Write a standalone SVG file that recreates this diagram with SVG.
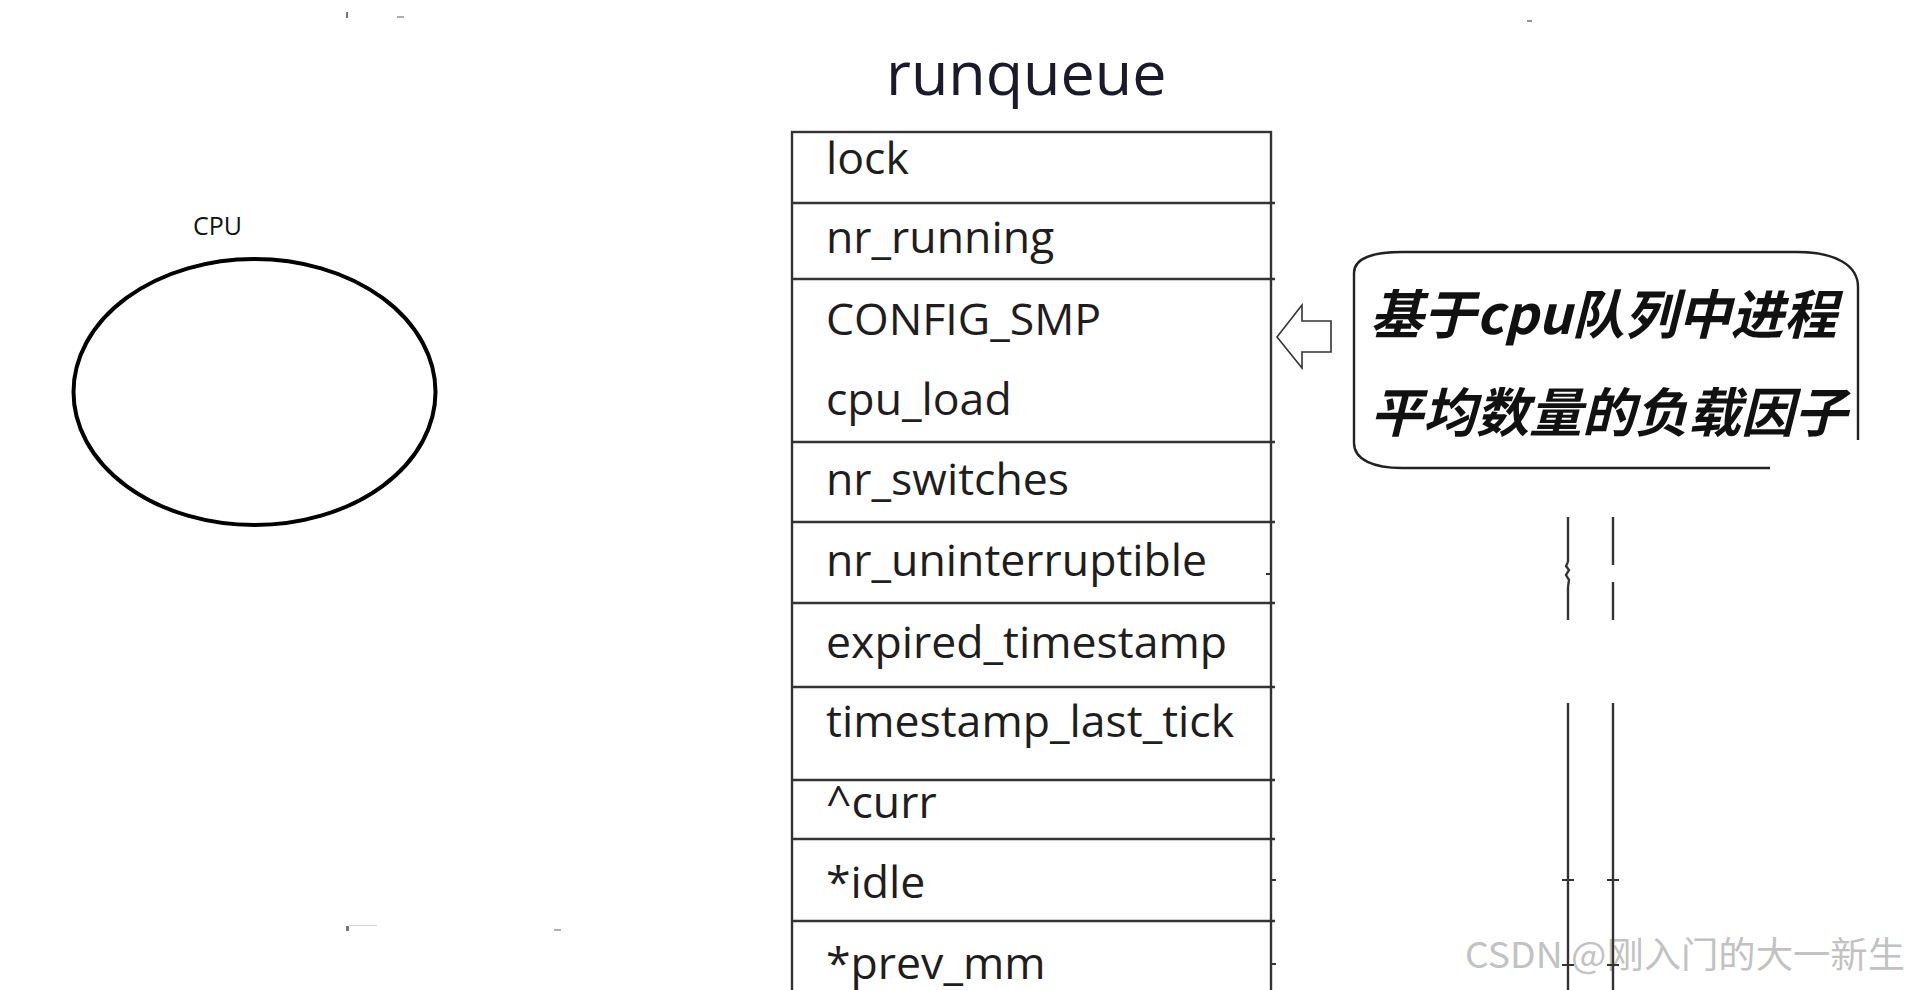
<svg xmlns="http://www.w3.org/2000/svg" width="1910" height="990" viewBox="0 0 1910 990">
<style>
.field{font-family:"Open Sans","Noto Sans",sans-serif;font-size:44.6px;fill:#1e1e1e}
.title{font-family:"Open Sans","Noto Sans",sans-serif;font-size:61px;fill:#1a1a2a}
.ln{stroke:#333;stroke-width:2.4;fill:none}
.tick{stroke:#333;stroke-width:2}
.cjk{font-family:"Noto Sans CJK SC","Noto Sans",sans-serif;font-size:53px;font-weight:bold;font-style:italic;fill:#111}
.mark{fill:#777}
</style>
<rect x="0" y="0" width="1910" height="990" fill="#fff"/>

<g id="artifacts">
<rect class="mark" x="346" y="12" width="2" height="6"/>
<rect class="mark" x="397" y="16" width="7" height="2" opacity="0.6"/>
<rect class="mark" x="346" y="926" width="3" height="5"/>
<rect class="mark" x="349" y="925" width="28" height="1" opacity="0.3"/>
<rect class="mark" x="554" y="929" width="7" height="2" opacity="0.6"/>
<rect class="mark" x="1527" y="20" width="5" height="2" opacity="0.8"/>
</g>

<g id="cpu">
<text x="193" y="235" font-family="'Open Sans','Noto Sans',sans-serif" font-size="25" fill="#111">CPU</text>
<ellipse cx="254.5" cy="392" rx="181" ry="133" fill="none" stroke="#000" stroke-width="4"/>
</g>

<g id="runqueue">
<text class="title" x="886" y="95">runqueue</text>
<rect x="792" y="132" width="479" height="870" fill="none" stroke="#333" stroke-width="2.4"/>
<line class="ln" x1="792" y1="203" x2="1275" y2="203"/>
<line class="ln" x1="792" y1="279" x2="1275" y2="279"/>
<line class="ln" x1="792" y1="442" x2="1275" y2="442"/>
<line class="ln" x1="792" y1="522" x2="1275" y2="522"/>
<line class="ln" x1="792" y1="603" x2="1275" y2="603"/>
<line class="ln" x1="792" y1="687" x2="1275" y2="687"/>
<line class="ln" x1="792" y1="780" x2="1275" y2="780"/>
<line class="ln" x1="792" y1="839" x2="1275" y2="839"/>
<line class="ln" x1="792" y1="921" x2="1275" y2="921"/>
<line class="tick" x1="1266" y1="574" x2="1271" y2="574"/>
<line class="tick" x1="1271" y1="880" x2="1276" y2="880"/>
<line class="tick" x1="1271" y1="964" x2="1276" y2="964"/>
<text class="field" x="826" y="174">lock</text>
<text class="field" x="826" y="253">nr_running</text>
<text class="field" x="826" y="335">CONFIG_SMP</text>
<text class="field" x="826" y="415">cpu_load</text>
<text class="field" x="826" y="495">nr_switches</text>
<text class="field" x="826" y="576">nr_uninterruptible</text>
<text class="field" x="826" y="658">expired_timestamp</text>
<text class="field" x="826" y="737">timestamp_last_tick</text>
<text class="field" x="826" y="818">^curr</text>
<text class="field" x="826" y="898">*idle</text>
<text class="field" x="826" y="979">*prev_mm</text>
</g>

<g id="callout">
<path d="M 1770 468 L 1402 468 C 1374 468 1354 460 1354 443 L 1354 273 C 1354 258 1374 252 1402 252 L 1797 252 C 1835 252 1858 265 1858 287 L 1858 440" fill="none" stroke="#222" stroke-width="2.4"/>
<text class="cjk" x="1370" y="334">基于cpu队列中进程</text>
<text class="cjk" x="1370" y="432">平均数量的负载因子</text>
</g>

<g id="connectors">
<polygon points="1277,337 1302,305 1302,321 1331,321 1331,352 1302,352 1302,368" fill="#fff" stroke="#333" stroke-width="1.6" stroke-linejoin="miter"/>
</g>

<g id="watermark">
<text x="1465" y="968" font-family="'Noto Sans CJK SC','Noto Sans',sans-serif" font-size="36" fill="#c2c2c2" textLength="440" lengthAdjust="spacingAndGlyphs">CSDN @刚入门的大一新生</text>
</g>

<g id="rails">
<line class="ln" x1="1568" y1="517" x2="1568" y2="562"/>
<path d="M 1568 562 L 1566 566 L 1569 570 L 1566 575 L 1569 580 L 1568 587" class="ln"/>
<line class="ln" x1="1568" y1="587" x2="1568" y2="620"/>
<line class="ln" x1="1613" y1="517" x2="1613" y2="565"/>
<line class="ln" x1="1613" y1="582" x2="1613" y2="620"/>
<line class="ln" x1="1568" y1="703" x2="1568" y2="990"/>
<line class="ln" x1="1613" y1="703" x2="1613" y2="990"/>
<line class="tick" x1="1562" y1="880" x2="1574" y2="880"/>
<line class="tick" x1="1607" y1="880" x2="1619" y2="880"/>
<line class="tick" x1="1562" y1="965" x2="1574" y2="965"/>
<line class="tick" x1="1607" y1="965" x2="1619" y2="965"/>
</g>
</svg>
